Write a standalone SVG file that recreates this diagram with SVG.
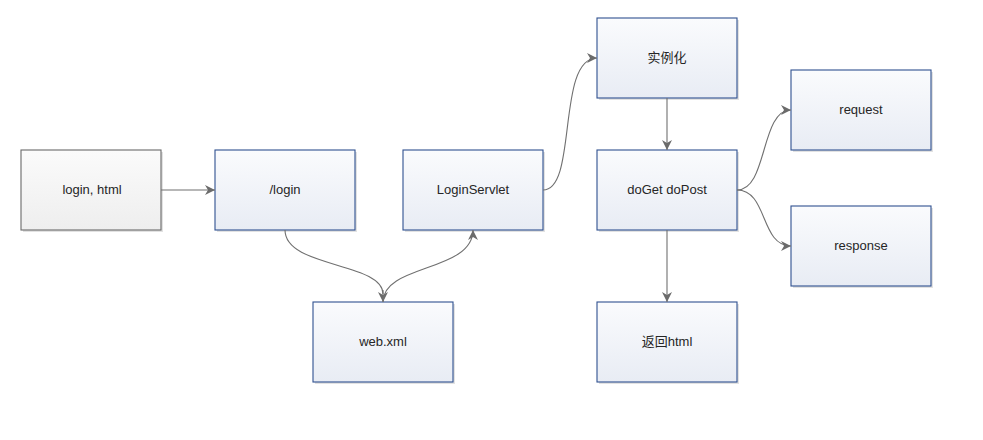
<svg xmlns="http://www.w3.org/2000/svg" width="983" height="440" viewBox="0 0 983 440">
<defs>
<linearGradient id="gBlue" x1="0" y1="0" x2="0" y2="1">
<stop offset="0" stop-color="#fafbfd"/>
<stop offset="1" stop-color="#e8ecf4"/>
</linearGradient>
<linearGradient id="gGrey" x1="0" y1="0" x2="0" y2="1">
<stop offset="0" stop-color="#fbfbfb"/>
<stop offset="1" stop-color="#eeeeee"/>
</linearGradient>
<marker id="arr" viewBox="0 0 10 10" refX="10" refY="5" markerWidth="10" markerHeight="10" markerUnits="userSpaceOnUse" orient="auto">
<path d="M0,0 L10,5 L0,10 L3,5 Z" fill="#6b6b6b"/>
</marker>
</defs>
<style>
.box{fill:url(#gBlue);stroke:#2f5190;stroke-width:1.1}
.grey{fill:url(#gGrey);stroke:#6a6a6a;stroke-width:1.1}
.sh{fill:#e2e2e2}
.lbl{font-family:"Liberation Sans","Noto Sans CJK SC",sans-serif;font-size:13px;fill:#262626;text-anchor:middle;dominant-baseline:central}
.c{fill:none;stroke:#707070;stroke-width:1.1;marker-end:url(#arr)}
.c0{fill:none;stroke:#707070;stroke-width:1.1}
</style>
<rect width="983" height="440" fill="#ffffff"/>

<g id="n-login-html"><rect class="sh" x="23" y="152" width="140" height="80"/><rect class="grey" x="21" y="150" width="140" height="80"/><text class="lbl" x="92" y="189">login, html</text></g>
<g id="n-login"><rect class="sh" x="217" y="152" width="140" height="80"/><rect class="box" x="215" y="150" width="140" height="80"/><text class="lbl" x="285" y="189">/login</text></g>
<g id="n-servlet"><rect class="sh" x="405" y="152" width="140" height="80"/><rect class="box" x="403" y="150" width="140" height="80"/><text class="lbl" x="473" y="189">LoginServlet</text></g>
<g id="n-webxml"><rect class="sh" x="315" y="304" width="140" height="80"/><rect class="box" x="313" y="302" width="140" height="80"/><text class="lbl" x="383" y="341">web.xml</text></g>
<g id="n-inst"><rect class="sh" x="599" y="20" width="140" height="80"/><rect class="box" x="597" y="18" width="140" height="80"/><text class="lbl" x="667" y="57">实例化</text></g>
<g id="n-doget"><rect class="sh" x="599" y="152" width="140" height="80"/><rect class="box" x="597" y="150" width="140" height="80"/><text class="lbl" x="667" y="189">doGet doPost</text></g>
<g id="n-return"><rect class="sh" x="599" y="304" width="140" height="80"/><rect class="box" x="597" y="302" width="140" height="80"/><text class="lbl" x="667" y="341">返回html</text></g>
<g id="n-request"><rect class="sh" x="793" y="72" width="140" height="80"/><rect class="box" x="791" y="70" width="140" height="80"/><text class="lbl" x="861" y="109">request</text></g>
<g id="n-response"><rect class="sh" x="793" y="208" width="140" height="80"/><rect class="box" x="791" y="206" width="140" height="80"/><text class="lbl" x="861" y="245">response</text></g>

<g id="connectors">
<path class="c" d="M161,190 L215,190"/>
<path class="c0" d="M285,230 C285,268 383,262 383,294"/>
<path class="c" d="M383,290 L383,302"/>
<path class="c" d="M383,302 C383,264 473,272 473,230"/>
<path class="c" d="M543,190 C578,190 556,58 597,58"/>
<path class="c" d="M667,98 L667,150"/>
<path class="c" d="M737,190 C768,190 760,110 791,110"/>
<path class="c" d="M737,190 C768,190 760,246 791,246"/>
<path class="c" d="M667,230 L667,302"/>
</g>
</svg>
